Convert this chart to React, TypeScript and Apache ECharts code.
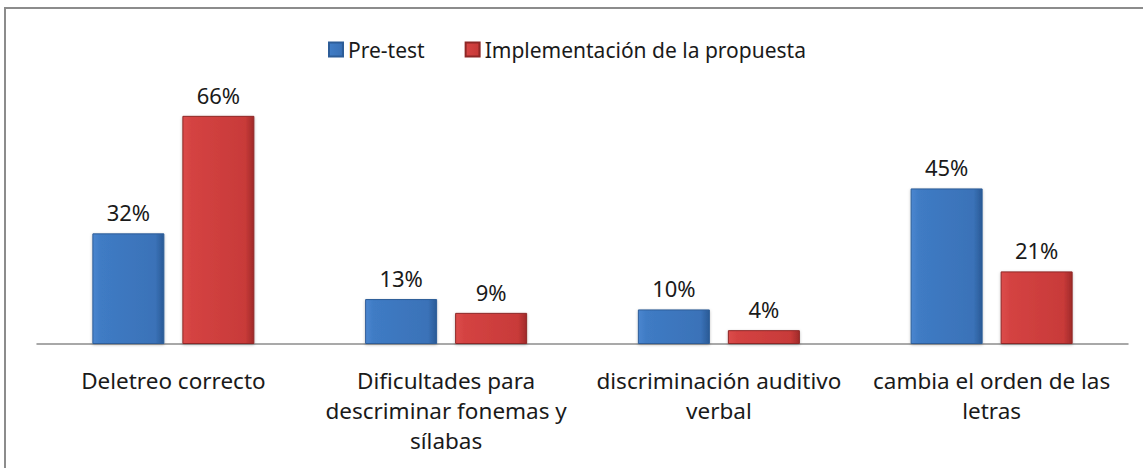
import React, { useEffect, useRef } from "react";
import * as echarts from "echarts";

const categories = [
  "Deletreo correcto",
  "Dificultades para\ndescriminar fonemas y\nsílabas",
  "discriminación auditivo\nverbal",
  "cambia el orden de las\nletras",
];
const preTest = [32, 13, 10, 45];
const implementacion = [66, 9, 4, 21];
const seriesNames = ["Pre-test", "Implementación de la propuesta"];

const FONT = "'Noto Sans', 'Open Sans', sans-serif";

const blueFill = new echarts.graphic.LinearGradient(0, 0, 1, 0, [
  { offset: 0, color: "#4a86cf" },
  { offset: 0.12, color: "#3f7bc4" },
  { offset: 0.88, color: "#3a72b8" },
  { offset: 1, color: "#2a5a96" },
]);
const redFill = new echarts.graphic.LinearGradient(0, 0, 1, 0, [
  { offset: 0, color: "#dc4c4a" },
  { offset: 0.12, color: "#d44342" },
  { offset: 0.88, color: "#c83a39" },
  { offset: 1, color: "#a02a29" },
]);

export default function App() {
  const ref = useRef<HTMLDivElement>(null);
  useEffect(() => {
    document.body.style.margin = "0";
    const chart = echarts.init(ref.current!, null, { renderer: "svg" });
    chart.setOption({
      animation: false,
      backgroundColor: "#ffffff",
      textStyle: { fontFamily: FONT },
      graphic: [
        {
          type: "rect",
          shape: { x: 5, y: 8, width: 1200, height: 500 },
          style: { fill: "none", stroke: "#8c8c8c", lineWidth: 2 },
          silent: true,
          z: 0,
        },
      ],
      legend: {
        left: 323,
        top: 34,
        itemWidth: 14,
        itemHeight: 14,
        itemGap: 40,
        icon: "rect",
        textStyle: { fontSize: 21, color: "#1a1a1a", fontFamily: FONT },
        data: seriesNames,
      },
      grid: { left: 37, right: 15, top: 102, bottom: 124 },
      xAxis: {
        type: "category",
        data: categories,
        axisLine: { lineStyle: { color: "#8c8c8c", width: 1.5 } },
        axisTick: { show: false },
        axisLabel: {
          interval: 0,
          fontSize: 22.5,
          color: "#1a1a1a",
          lineHeight: 30,
          margin: 21,
          fontFamily: FONT,
        },
      },
      yAxis: {
        type: "value",
        min: 0,
        max: 70,
        show: false,
        splitLine: { show: false },
      },
      series: [
        {
          name: seriesNames[0],
          type: "bar",
          data: preTest,
          barGap: "25%",
          barCategoryGap: "40.6%",
          itemStyle: {
            color: blueFill,
            borderColor: "#2d5d98",
            borderWidth: 1,
            shadowColor: "rgba(0,0,0,0.25)",
            shadowBlur: 3,
            shadowOffsetY: 1,
          },
          label: {
            show: true,
            position: "top",
            distance: 10,
            formatter: "{c}%",
            fontSize: 22,
            color: "#1a1a1a",
            fontFamily: FONT,
          },
        },
        {
          name: seriesNames[1],
          type: "bar",
          data: implementacion,
          itemStyle: {
            color: redFill,
            borderColor: "#8e2726",
            borderWidth: 1,
            shadowColor: "rgba(0,0,0,0.25)",
            shadowBlur: 3,
            shadowOffsetY: 1,
          },
          label: {
            show: true,
            position: "top",
            distance: 10,
            formatter: "{c}%",
            fontSize: 22,
            color: "#1a1a1a",
            fontFamily: FONT,
          },
        },
      ],
    });
    return () => chart.dispose();
  }, []);
  return <div ref={ref} style={{ width: 1143, height: 468 }} />;
}
